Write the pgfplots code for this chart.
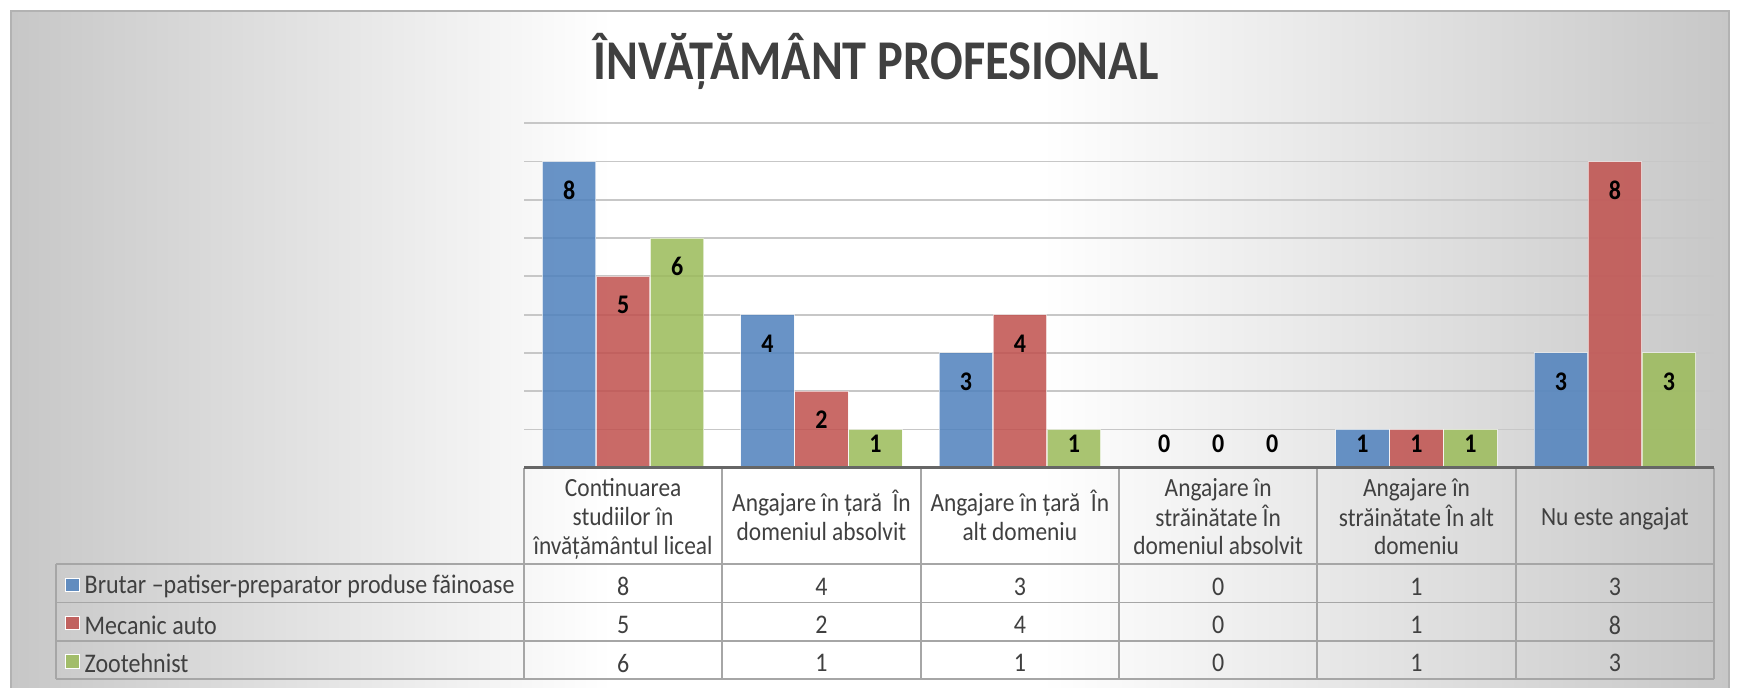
\documentclass[border=0pt]{standalone}
\usepackage{pgfplots}
\pgfplotsset{compat=1.18}
\usepackage{pgfplotstable}
\usepackage{graphicx}
\usepackage{fontspec}
\setmainfont{Carlito}
\definecolor{cB}{HTML}{4F81BD}
\definecolor{cR}{HTML}{C0504D}
\definecolor{cG}{HTML}{9BBB59}
\definecolor{txt}{HTML}{404040}
\newcommand{\vs}[1]{\scalebox{1}[1.12]{#1}}
\newcommand{\hdr}[1]{\vs{\begin{tabular}{@{}c@{}}#1\end{tabular}}}
\pgfdeclarehorizontalshading{bgshade}{100bp}{color(0bp)=(black!22); color(25bp)=(black!22); color(42.5bp)=(white); color(55bp)=(white); color(75bp)=(black!22); color(100bp)=(black!22)}

\pgfplotstableread{
x b m z
0 8 5 6
1 4 2 1
2 3 4 1
3 0 0 0
4 1 1 1
5 3 8 3
}\data

\begin{document}
\begin{tikzpicture}
\useasboundingbox (0,0) rectangle (869pt,344pt);
\fill[white] (0,0) rectangle (869pt,344pt);
\shade[shading=bgshade] (5.5pt,0) rectangle (864.5pt,338.5pt);
\draw[black!30, line width=0.8pt] (5.5pt,0) -- (5.5pt,338.5pt) -- (864.5pt,338.5pt) -- (864.5pt,0);
\node[anchor=base, inner sep=0pt, font=\bfseries\fontsize{24.2}{28}\selectfont, text=txt] at (438pt,304pt) {\scalebox{1}[1.16]{ÎNVĂȚĂMÂNT PROFESIONAL}};
\begin{axis}[
  anchor=south west, at={(262pt,110.15pt)},
  scale only axis, width=595pt, height=172.2pt,
  xmin=-0.5, xmax=5.5, ymin=0, ymax=9,
  clip=false,
  axis line style={draw=none},
  xtick=\empty, ytick={1,2,3,4,5,6,7,8,9}, yticklabels=\empty, major tick length=0pt,
  ymajorgrids, grid style={black!22, line width=0.9pt},
]
% bars
\addplot[ybar, bar width=26.7pt, bar shift=-27pt, fill=cB, fill opacity=0.85, draw=white, draw opacity=0.6, line width=0.4pt] table[x=x, y=b] {\data};
\addplot[ybar, bar width=26.7pt, bar shift=0pt, fill=cR, fill opacity=0.85, draw=white, draw opacity=0.6, line width=0.4pt] table[x=x, y=m] {\data};
\addplot[ybar, bar width=26.7pt, bar shift=27pt, fill=cG, fill opacity=0.85, draw=white, draw opacity=0.6, line width=0.4pt] table[x=x, y=z] {\data};
% data labels
\addplot[draw=none, nodes near coords={\vs{\pgfplotspointmeta}}, point meta=explicit symbolic,
  every node near coord/.style={anchor=center, xshift=-27pt, font=\bfseries\fontsize{12}{12}\selectfont, text=black}]
  table[x=x, y expr=\thisrow{b}-0.75+(\thisrow{b}<2)*(1.37-\thisrow{b}), meta=b] {\data};
\addplot[draw=none, nodes near coords={\vs{\pgfplotspointmeta}}, point meta=explicit symbolic,
  every node near coord/.style={anchor=center, font=\bfseries\fontsize{12}{12}\selectfont, text=black}]
  table[x=x, y expr=\thisrow{m}-0.75+(\thisrow{m}<2)*(1.37-\thisrow{m}), meta=m] {\data};
\addplot[draw=none, nodes near coords={\vs{\pgfplotspointmeta}}, point meta=explicit symbolic,
  every node near coord/.style={anchor=center, xshift=27pt, font=\bfseries\fontsize{12}{12}\selectfont, text=black}]
  table[x=x, y expr=\thisrow{z}-0.75+(\thisrow{z}<2)*(1.37-\thisrow{z}), meta=z] {\data};
% data table grid
\draw[black!35, line width=0.9pt]
  (axis cs:-2.86,-2.524) -- (axis cs:5.5,-2.524)
  (axis cs:-2.86,-3.524) -- (axis cs:5.5,-3.524)
  (axis cs:-2.86,-4.524) -- (axis cs:5.5,-4.524)
  (axis cs:-2.86,-5.524) -- (axis cs:5.5,-5.524)
  (axis cs:-2.86,-2.524) -- (axis cs:-2.86,-5.524)
  (axis cs:-0.5,0) -- (axis cs:-0.5,-5.524)
  (axis cs:0.5,0) -- (axis cs:0.5,-5.524)
  (axis cs:1.5,0) -- (axis cs:1.5,-5.524)
  (axis cs:2.5,0) -- (axis cs:2.5,-5.524)
  (axis cs:3.5,0) -- (axis cs:3.5,-5.524)
  (axis cs:4.5,0) -- (axis cs:4.5,-5.524)
  (axis cs:5.5,0) -- (axis cs:5.5,-5.524);
\draw[black!60, line width=1.2pt] (axis cs:-0.5,0) -- (axis cs:5.5,0);
% header cells
\node[inner sep=0pt, font=\fontsize{11.7}{12.8}\selectfont, text=txt] at (axis cs:0,-1.36) {\hdr{Continuarea\\studiilor în\\învățământul liceal}};
\node[inner sep=0pt, font=\fontsize{11.7}{12.8}\selectfont, text=txt] at (axis cs:1,-1.36) {\hdr{Angajare în țară\ \ În\\domeniul absolvit}};
\node[inner sep=0pt, font=\fontsize{11.7}{12.8}\selectfont, text=txt] at (axis cs:2,-1.36) {\hdr{Angajare în țară\ \ În\\alt domeniu}};
\node[inner sep=0pt, font=\fontsize{11.7}{12.8}\selectfont, text=txt] at (axis cs:3,-1.36) {\hdr{Angajare în\\străinătate În\\domeniul absolvit}};
\node[inner sep=0pt, font=\fontsize{11.7}{12.8}\selectfont, text=txt] at (axis cs:4,-1.36) {\hdr{Angajare în\\străinătate În alt\\domeniu}};
\node[inner sep=0pt, font=\fontsize{11.7}{12.8}\selectfont, text=txt] at (axis cs:5,-1.36) {\hdr{Nu este angajat}};
% table values
\addplot[draw=none, nodes near coords={\vs{\pgfplotspointmeta}}, point meta=explicit symbolic,
  every node near coord/.style={anchor=center, font=\fontsize{12}{13}\selectfont, text=txt}]
  table[x=x, y expr=-3.11, meta=b] {\data};
\addplot[draw=none, nodes near coords={\vs{\pgfplotspointmeta}}, point meta=explicit symbolic,
  every node near coord/.style={anchor=center, font=\fontsize{12}{13}\selectfont, text=txt}]
  table[x=x, y expr=-4.11, meta=m] {\data};
\addplot[draw=none, nodes near coords={\vs{\pgfplotspointmeta}}, point meta=explicit symbolic,
  every node near coord/.style={anchor=center, font=\fontsize{12}{13}\selectfont, text=txt}]
  table[x=x, y expr=-5.11, meta=z] {\data};
% legend keys and series names
\node[fill=cB, fill opacity=0.85, draw=white, line width=0.4pt, minimum size=6.6pt, inner sep=0pt, anchor=west] at (axis cs:-2.812,-3.06) {};
\node[fill=cR, fill opacity=0.85, draw=white, line width=0.4pt, minimum size=6.6pt, inner sep=0pt, anchor=west] at (axis cs:-2.812,-4.06) {};
\node[fill=cG, fill opacity=0.85, draw=white, line width=0.4pt, minimum size=6.6pt, inner sep=0pt, anchor=west] at (axis cs:-2.812,-5.06) {};
\node[anchor=west, inner sep=0pt, font=\fontsize{12}{13}\selectfont, text=txt] at (axis cs:-2.717,-3.11) {\vs{Brutar –patiser-preparator produse făinoase}};
\node[anchor=west, inner sep=0pt, font=\fontsize{12}{13}\selectfont, text=txt] at (axis cs:-2.717,-4.11) {\vs{Mecanic auto}};
\node[anchor=west, inner sep=0pt, font=\fontsize{12}{13}\selectfont, text=txt] at (axis cs:-2.717,-5.11) {\vs{Zootehnist}};
\end{axis}
\end{tikzpicture}
\end{document}
